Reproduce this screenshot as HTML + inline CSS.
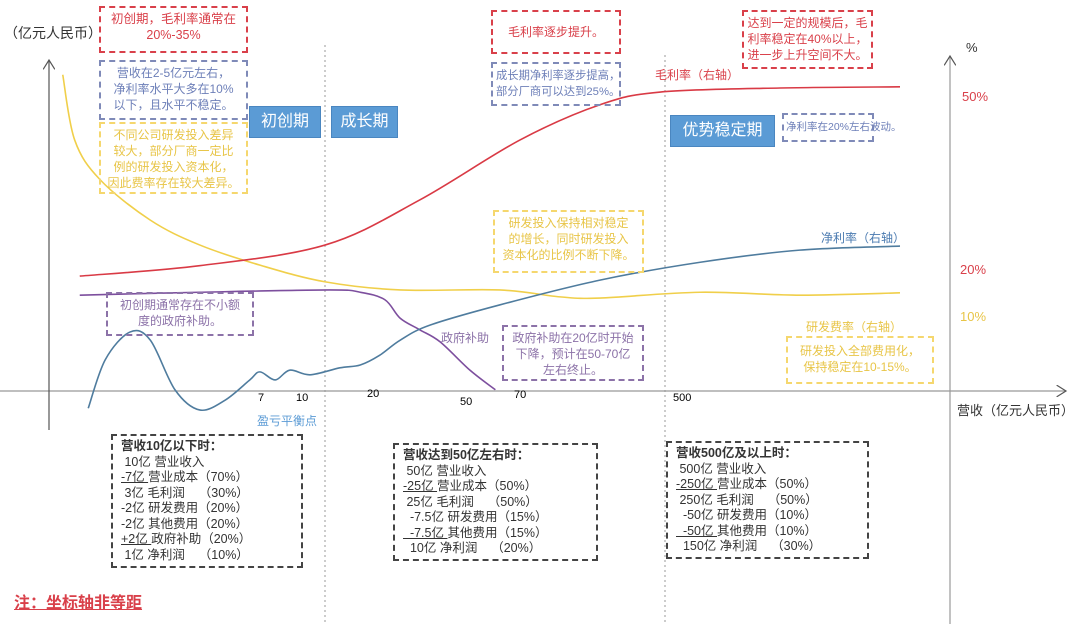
<!DOCTYPE html>
<html><head><meta charset="utf-8">
<style>
body{margin:0;width:1080px;height:624px;background:#fff;position:relative;overflow:hidden;font-family:"Liberation Sans","Noto Sans CJK SC",sans-serif;}
.b{position:absolute;box-sizing:border-box;border:2px dashed;font-size:12px;line-height:16px;text-align:center;padding-top:3px;white-space:nowrap}
.t{position:absolute;font-size:12px;white-space:nowrap}
.st{position:absolute;background:#5b9bd5;color:#fff;font-size:16px;text-align:center;box-sizing:border-box;border:1px solid #4a86c0}
.bt{position:absolute;box-sizing:border-box;border:2px dashed #444;font-size:12.5px;line-height:15.5px;color:#333;padding:3px 8px;white-space:pre}
u{text-decoration:underline}
</style></head><body>
<svg id="chart" width="1080" height="624" style="position:absolute;left:0;top:0">
<defs><marker id="ar" markerWidth="10" markerHeight="10" refX="8" refY="5" orient="auto"><path d="M0,0 L8,5 L0,10" fill="none" stroke="#555" stroke-width="1"/></marker></defs>
<line x1="0" y1="391" x2="1066" y2="391" stroke="#999" stroke-width="1.2" marker-end="url(#ar)"/>
<line x1="49" y1="430" x2="49" y2="60" stroke="#555" stroke-width="1.2" marker-end="url(#ar)"/>
<line x1="950" y1="624" x2="950" y2="56" stroke="#999" stroke-width="1.2" marker-end="url(#ar)"/>
<line x1="325" y1="45" x2="325" y2="624" stroke="#999" stroke-dasharray="2,3"/>
<line x1="665" y1="55" x2="665" y2="624" stroke="#999" stroke-dasharray="2,3"/>
<g id="lines"></g>
</svg>

<div class="t" style="left:4px;top:23px;font-size:14px;color:#333">（亿元人民币）</div>
<div class="b" style="left:99px;top:6px;width:149px;height:47px;border-color:#d9404a;color:#d9404a;font-size:12.5px">初创期，毛利率通常在<br>20%-35%</div>
<div class="b" style="left:99px;top:60px;width:149px;height:60px;border-color:#7f8ab8;color:#6d7fb8">营收在2-5亿元左右，<br>净利率水平大多在10%<br>以下，且水平不稳定。</div>
<div class="b" style="left:99px;top:122px;width:149px;height:72px;border-color:#f5d76e;color:#e8c547">不同公司研发投入差异<br>较大，部分厂商一定比<br>例的研发投入资本化，<br>因此费率存在较大差异。</div>
<div class="st" style="left:249px;top:106px;width:72px;height:32px;line-height:30px">初创期</div>
<div class="st" style="left:331px;top:106px;width:67px;height:32px;line-height:30px">成长期</div>
<div class="b" style="left:491px;top:10px;width:130px;height:44px;border-color:#d9404a;color:#d9404a;padding-top:12px">毛利率逐步提升。</div>
<div class="b" style="left:491px;top:62px;width:130px;height:44px;border-color:#7f8ab8;color:#6d7fb8;text-align:left;padding-left:3px;font-size:11.3px;padding-top:4px">成长期净利率逐步提高，<br>部分厂商可以达到25%。</div>
<div class="t" style="left:655px;top:66px;color:#d9404a">毛利率（右轴）</div>
<div class="st" style="left:670px;top:115px;width:105px;height:32px;line-height:30px">优势稳定期</div>
<div class="b" style="left:782px;top:113px;width:92px;height:29px;border-color:#7f8ab8;color:#6d7fb8;font-size:10.5px;padding-top:4px;text-align:left;padding-left:2px">净利率在20%左右波动。</div>
<div class="b" style="left:742px;top:10px;width:131px;height:59px;border-color:#d9404a;color:#d9404a">达到一定的规模后，毛<br>利率稳定在40%以上，<br>进一步上升空间不大。</div>
<div class="t" style="left:966px;top:40px;font-size:13px;color:#333">%</div>
<div class="t" style="left:962px;top:89px;font-size:13px;color:#d9404a">50%</div>
<div class="t" style="left:960px;top:262px;font-size:13px;color:#d9404a">20%</div>
<div class="t" style="left:960px;top:309px;font-size:13px;color:#e8c547">10%</div>
<div class="b" style="left:493px;top:210px;width:151px;height:63px;border-color:#f5d76e;color:#e8c547">研发投入保持相对稳定<br>的增长，同时研发投入<br>资本化的比例不断下降。</div>
<div class="b" style="left:106px;top:292px;width:148px;height:44px;border-color:#8c72a8;color:#8c72a8">初创期通常存在不小额<br>度的政府补助。</div>
<div class="t" style="left:441px;top:329px;color:#8c72a8">政府补助</div>
<div class="b" style="left:502px;top:325px;width:142px;height:56px;border-color:#8c72a8;color:#8c72a8">政府补助在20亿时开始<br>下降，预计在50-70亿<br>左右终止。</div>
<div class="t" style="left:821px;top:229px;color:#4a7ab0">净利率（右轴）</div>
<div class="t" style="left:806px;top:318px;color:#e8c547">研发费率（右轴）</div>
<div class="b" style="left:786px;top:336px;width:148px;height:48px;border-color:#f5d76e;color:#e8c547;padding-top:5px">研发投入全部费用化，<br>保持稳定在10-15%。</div>
<div class="t" style="left:258px;top:392px;font-size:11px">7</div>
<div class="t" style="left:296px;top:392px;font-size:11px">10</div>
<div class="t" style="left:367px;top:388px;font-size:11px">20</div>
<div class="t" style="left:460px;top:396px;font-size:11px">50</div>
<div class="t" style="left:514px;top:389px;font-size:11px">70</div>
<div class="t" style="left:673px;top:392px;font-size:11px">500</div>
<div class="t" style="left:257px;top:412px;color:#5b9bd5">盈亏平衡点</div>
<div class="t" style="left:957px;top:400px;font-size:13px;color:#333">营收（亿元人民币）</div>
<div class="bt" style="left:111px;top:434px;width:192px;height:134px"><b>营收10亿以下时：</b>
 10亿 营业收入
<u>-7亿 </u>营业成本（70%）
 3亿 毛利润    （30%）
-2亿 研发费用（20%）
-2亿 其他费用（20%）
<u>+2亿 </u>政府补助（20%）
 1亿 净利润    （10%）</div>
<div class="bt" style="left:393px;top:443px;width:205px;height:118px"><b>营收达到50亿左右时：</b>
 50亿 营业收入
<u>-25亿 </u>营业成本（50%）
 25亿 毛利润    （50%）
  -7.5亿 研发费用（15%）
<u>  -7.5亿 </u>其他费用（15%）
  10亿 净利润    （20%）</div>
<div class="bt" style="left:666px;top:441px;width:203px;height:118px"><b>营收500亿及以上时：</b>
 500亿 营业收入
<u>-250亿 </u>营业成本（50%）
 250亿 毛利润    （50%）
  -50亿 研发费用（10%）
<u>  -50亿 </u>其他费用（10%）
  150亿 净利润    （30%）</div>
<div class="t" style="left:14px;top:589px;font-size:16px;font-weight:bold;color:#d9404a;text-decoration:underline">注：坐标轴非等距</div>

<script>
const grossX=[3.5,17.6,32.4,43.5,55.3,64.7,71.8,85.9,100];
const grossY=[18.7,20.5,24.1,31.9,42.3,48.4,50.6,51.3,51.5];
const rdX=[1.5,2.9,5.9,11.8,17.6,24.7,32.4,41.2,52.9,60,64.7,76.5,88.2,100];
const rdY=[53.6,42.3,35.4,28.4,24.1,20.6,17.7,16.3,16.3,15.1,14.9,15.9,15.4,15.8];
const subX=[3.5,17.6,32.9,36.5,39.4,41.2,43.5,45.9,49.4,52.4];
const subY=[15.4,15.9,16.3,15.9,14.6,11.4,9.4,7.3,2.4,-1.0];
const netX=[4.5,6.5,9.4,11.8,14.7,17.6,20.6,23.5,24.7,26.5,28.2,30.6,34.1,36.5,38.8,41.2,44.7,52.9,64.7,76.5,88.2,100];
const netY=[-4.2,4.2,9.0,7.6,-1.0,-4.5,-2.8,0.7,2.1,0.7,2.4,1.6,2.8,3.3,5.0,7.6,10.2,13.7,18.0,21.1,23.2,23.9];
function sx(v){return 50+v*8.5;}
function sy(v){return 384-v*5.77;}
function path(xs,ys){
  const p=xs.map((x,i)=>[sx(x),sy(ys[i])]);
  let d='M'+p[0][0]+','+p[0][1];
  for(let i=0;i<p.length-1;i++){
    const p0=p[i-1]||p[i],p1=p[i],p2=p[i+1],p3=p[i+2]||p2;
    const c1=[p1[0]+(p2[0]-p0[0])/6,p1[1]+(p2[1]-p0[1])/6];
    const c2=[p2[0]-(p3[0]-p1[0])/6,p2[1]-(p3[1]-p1[1])/6];
    d+=' C'+c1+' '+c2+' '+p2;
  }
  return d;
}
const g=document.getElementById('lines');
function add(xs,ys,color,name){
  const el=document.createElementNS('http://www.w3.org/2000/svg','path');
  el.setAttribute('d',path(xs,ys));
  el.setAttribute('fill','none');el.setAttribute('stroke',color);el.setAttribute('stroke-width','1.6');
  
  
  g.appendChild(el);
}
add(rdX,rdY,'#f0cf4a','rd-rate-line');
add(subX,subY,'#7d4f9e','subsidy-line');
add(netX,netY,'#4f7c9e','net-margin-line');
add(grossX,grossY,'#d93a45','gross-margin-line');
</script>
</body></html>
